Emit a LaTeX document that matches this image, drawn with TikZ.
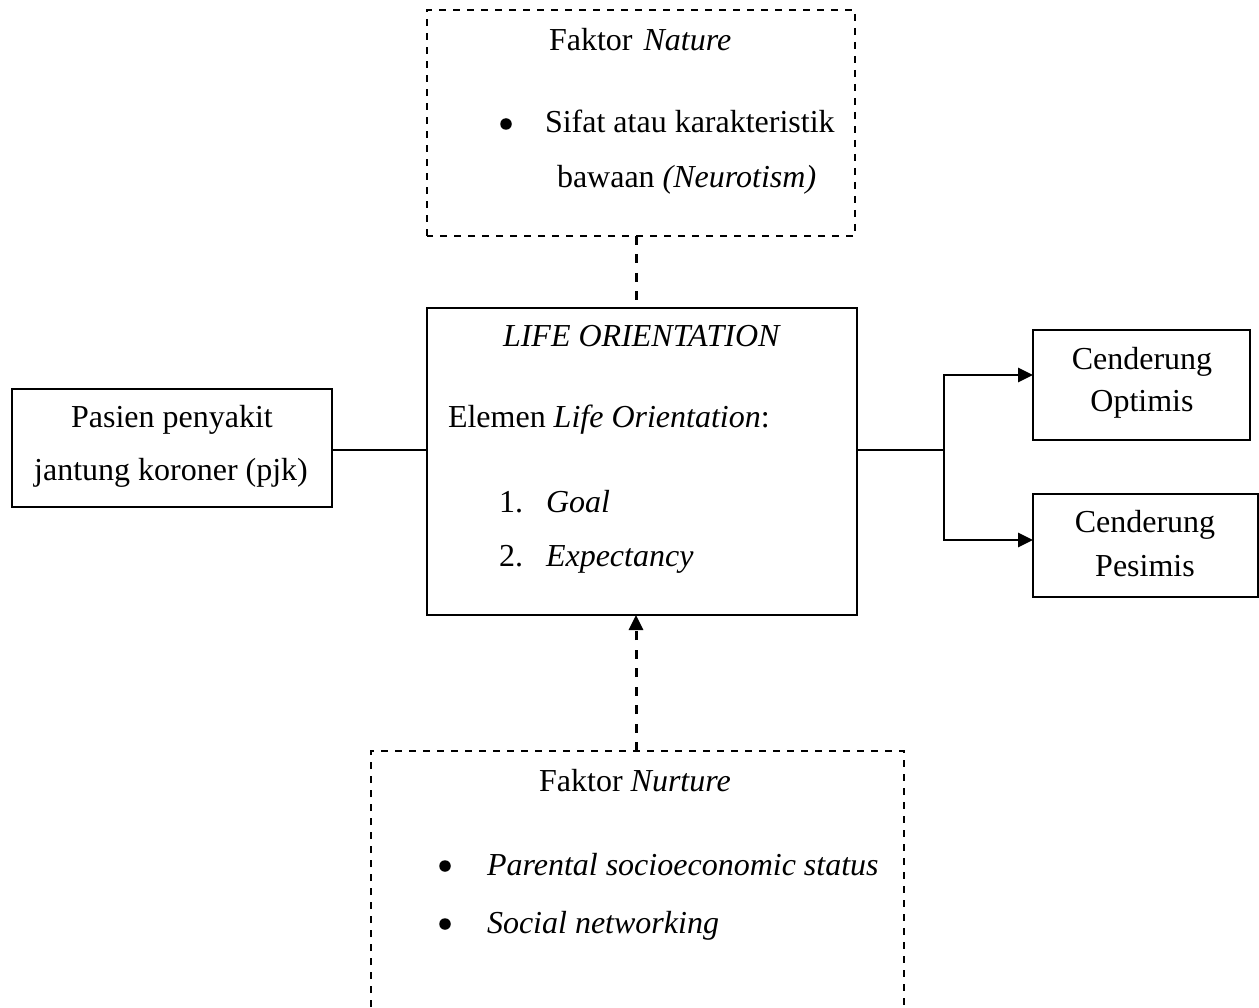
\documentclass[tikz,border=0pt]{standalone}
\usepackage{fontspec}
\setmainfont{Liberation Serif}
\usetikzlibrary{arrows.meta}
\begin{document}
\begin{tikzpicture}[x=1pt,y=-1pt,
  every node/.style={inner sep=0pt,outer sep=0pt,font=\fontsize{32}{38}\selectfont},
  solidbox/.style={draw,line width=2pt,rectangle},
  dashbox/.style={line width=1.8pt,dash pattern=on 7pt off 7pt},
  conn/.style={line width=2.7pt},
  dashconn/.style={line width=3pt,dash pattern=on 9pt off 9.5pt},
  tip/.style={-{Triangle[length=15pt,width=14pt]}},
  bul/.style={circle,fill=black,minimum size=11.5pt},
  txt/.style={anchor=base west},
  ctxt/.style={anchor=base}]
\useasboundingbox (0,0) rectangle (1259,1008);
\fill[white] (0,0) rectangle (1259,1008);
% boxes
\node[minimum width=428pt,minimum height=226pt] (nature) at (641,123) {};
\draw[dashbox] (nature.south west) rectangle (nature.north east);
\node[solidbox,minimum width=430pt,minimum height=307pt] (lo) at (642,461.5) {};
\node[solidbox,minimum width=320pt,minimum height=118pt] (pasien) at (172,448) {};
\node[solidbox,minimum width=217pt,minimum height=110pt] (opt) at (1141.5,385) {};
\node[solidbox,minimum width=225pt,minimum height=103pt] (pes) at (1145.5,545.5) {};
\node[minimum width=533pt,minimum height=298pt] (nurture) at (637.5,900) {};
\draw[dashbox] (nurture.south west) -- (nurture.north west) -- (nurture.north east) -- (nurture.south east);
% texts: nature
\node[txt] (natT) at (549,51) {Faktor\hspace{11pt}\textit{Nature}};
\node[bul] (natB) at (506,124) {};
\node[txt] (natL1) at (545,133) {Sifat atau karakteristik};
\node[txt] (natL2) at (557,188) {bawaan \textit{(Neurotism)}};
% texts: life orientation
\node[ctxt] (loT) at (642,347) {\textit{LIFE ORIENTATION}};
\node[txt] (loE) at (448,428) {Elemen \textit{Life Orientation}:};
\node[txt] (lo1n) at (499,512) {1.};
\node[txt] (lo1) at (546,512) {\textit{Goal}};
\node[txt] (lo2n) at (499,566) {2.};
\node[txt] (lo2) at (546,566) {\textit{Expectancy}};
% texts: pasien
\node[ctxt] (pasL1) at (172,428) {Pasien penyakit};
\node[ctxt] (pasL2) at (171,480) {jantung koroner (pjk)};
% texts: outcomes
\node[ctxt] (optL1) at (1142,370) {Cenderung};
\node[ctxt] (optL2) at (1142,411) {Optimis};
\node[ctxt] (pesL1) at (1145,532) {Cenderung};
\node[ctxt] (pesL2) at (1145,576) {Pesimis};
% texts: nurture
\node[ctxt] (nurT) at (635,791) {Faktor \textit{Nurture}};
\node[bul] (nurB1) at (445,866) {};
\node[txt] (nurL1) at (487,875) {\textit{Parental socioeconomic status}};
\node[bul] (nurB2) at (445,924) {};
\node[txt] (nurL2) at (487,933) {\textit{Social networking}};
% connectors
\coordinate (cx) at (636,0);
\coordinate (j) at (944,450);
\coordinate (ja) at (944,375);
\coordinate (jb) at (944,540);
\draw[conn] (pasien.east |- j) -- (lo.west |- j);
\draw[conn] (lo.east |- j) -- (j);
\draw[conn,tip] (j) -- (ja) -- (opt.west |- ja);
\draw[conn,tip] (j) -- (jb) -- (pes.west |- jb);
\draw[dashconn] (nature.south -| cx) -- ([yshift=6pt]lo.north -| cx);
\draw[dashconn,tip] (nurture.north -| cx) -- (lo.south -| cx);
\end{tikzpicture}
\end{document}
